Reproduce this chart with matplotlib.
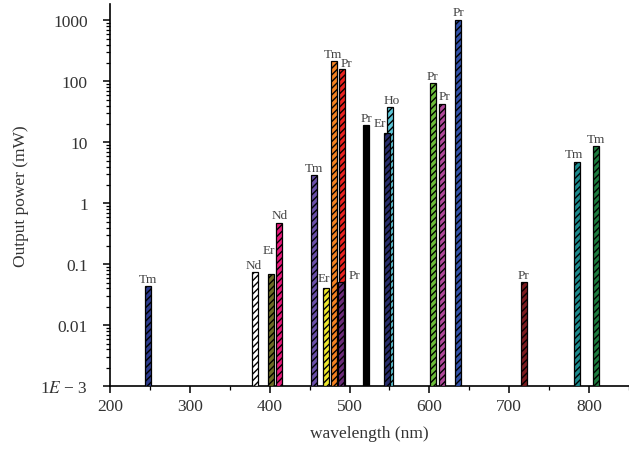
import matplotlib
matplotlib.use("Agg")
import matplotlib.pyplot as plt
import numpy as np
from matplotlib.ticker import LogLocator, NullFormatter, MultipleLocator

plt.rcParams['font.family'] = ['Liberation Serif', 'DejaVu Serif']
plt.rcParams['mathtext.fontset'] = 'stix'
plt.rcParams['hatch.linewidth'] = 1.0

wavelengths = [248, 381, 402, 412, 455, 470, 481, 489, 491, 521, 547, 551, 604, 616, 636, 718, 785, 809]
powers      = [0.043, 0.073, 0.069, 0.48, 2.9, 0.04, 215, 0.05, 157, 19, 14.3, 38, 94, 43, 1000, 0.05, 4.8, 8.6]
ions        = ['Tm', 'Nd', 'Er', 'Nd', 'Tm', 'Er', 'Tm', 'Pr', 'Pr', 'Pr', 'Er', 'Ho', 'Pr', 'Pr', 'Pr', 'Pr', 'Tm', 'Tm']
colors      = ['#2b3a8c', '#ffffff', '#6b6b22', '#e8177a', '#6a4fa8', '#ece62a', '#f58220', '#6a2a78',
               '#e8211e', '#000000', '#272c6c', '#5cc6d8', '#6cbd3a', '#b0489a', '#3050a8', '#7a1a1e',
               '#1a8a8e', '#1b7a3c']
hatches     = ['/////'] * 9 + [''] + ['/////'] * 8
# label offsets in points (dx, dy)
offsets     = [(0, 0), (-1, 0), (-2, 12), (0, 0), (0, 0), (-1, 2), (-1, 0), (10, 0), (3, -1),
               (0, 0), (-5, 2), (1, 0), (0, 0), (2, 0), (0, 1), (0, 0), (-2, 0), (0, 0)]

fig = plt.figure(figsize=(6.29, 4.56), dpi=100)
ax = fig.add_axes([0.175, 0.151, 0.825, 0.838])

for x, p, c, h in zip(wavelengths, powers, colors, hatches):
    ax.bar(x, p, width=7.5, bottom=1e-3, color=c, edgecolor='black', linewidth=0.9, hatch=h,
           zorder=3 - np.log10(p) / 10)

for x, p, name, (dx, dy) in zip(wavelengths, powers, ions, offsets):
    ax.annotate(name, (x, p), xytext=(dx, dy + 1), textcoords='offset points',
                ha='center', va='bottom', fontsize=9.5, color='#444444', zorder=10)

ax.set_yscale('log')
ax.set_ylim(1e-3, 1860)
ax.set_xlim(200, 850)

ax.set_yticks([1e-3, 1e-2, 1e-1, 1, 10, 100, 1000])
ax.set_yticklabels(['1$E$ − 3', '0.01', '0.1', '1', '10', '100', '1000'])
ax.yaxis.set_minor_locator(LogLocator(base=10, subs=np.arange(2, 10)))
ax.yaxis.set_minor_formatter(NullFormatter())

ax.set_xticks([200, 300, 400, 500, 600, 700, 800])
ax.xaxis.set_minor_locator(MultipleLocator(50))

ax.spines['top'].set_visible(False)
ax.spines['right'].set_visible(False)
for s in ['left', 'bottom']:
    ax.spines[s].set_linewidth(1.2)

ax.tick_params(axis='both', which='major', direction='out', length=5, width=1.1,
               labelsize=12.5, colors='black', labelcolor='#333333')
ax.tick_params(axis='y', which='major', pad=11)
ax.tick_params(axis='both', which='minor', direction='out', length=3, width=0.9)

ax.set_xlabel('wavelength (nm)', fontsize=12.5, color='#333333', labelpad=8)
ax.set_ylabel('Output power (mW)', fontsize=12.5, color='#333333', labelpad=8)

fig.savefig('out.png', dpi=100)
